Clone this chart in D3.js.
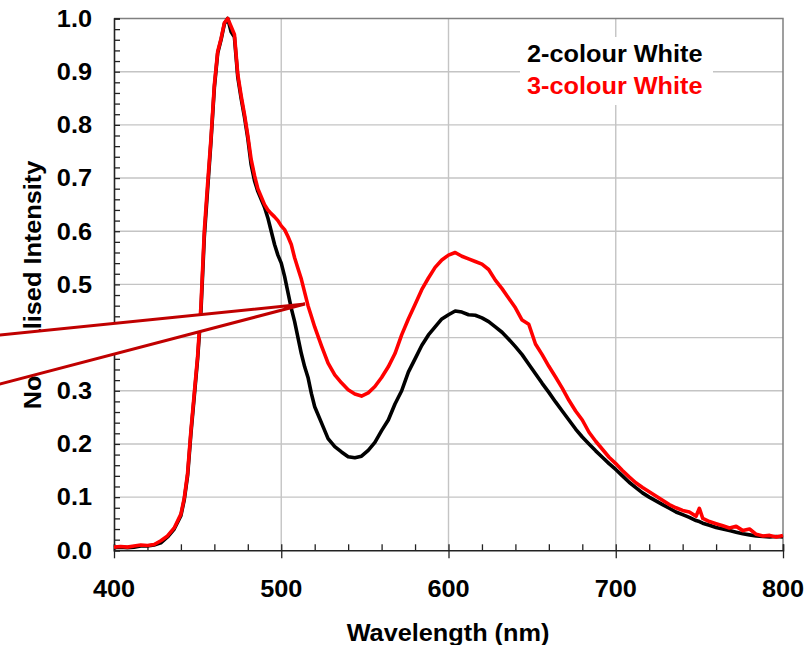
<!DOCTYPE html>
<html>
<head>
<meta charset="utf-8">
<script src="https://cdn.jsdelivr.net/npm/d3@7"></script>
<style>
  html, body { margin: 0; padding: 0; background: #fff; }
  svg { display: block; }
  text { font-family: "Liberation Sans", Arial, sans-serif; font-weight: bold; }
</style>
</head>
<body>
<svg id="chart" width="812" height="645"></svg>
<script>
// ---- data ----
const wavelengths = [400,404,408,412,416,420,424,428,432,436,440,442,444,446,448,450,452,454,456,458,
  460,462,464,466,468,470,472,474,476,478,480,482,484,486,488,490,492,494,496,498,
  500,502,504,506,508,510,512,514,516,518,520,524,528,532,536,540,544,548,552,556,
  560,564,568,572,576,580,584,588,592,596,600,604,608,612,616,620,624,628,632,636,
  640,644,648,652,656,660,664,668,672,676,680,684,688,692,696,700,704,708,712,716,
  720,724,728,732,736,740,744,748,750,752,756,760,764,768,772,776,780,784,788,792,796,800];

const twoColour = [0.005,0.006,0.005,0.006,0.008,0.008,0.010,0.014,0.025,0.040,0.065,0.095,0.140,0.220,0.290,0.360,0.450,0.590,0.680,0.770,
  0.870,0.935,0.960,0.990,1.000,0.975,0.965,0.890,0.850,0.815,0.775,0.725,0.695,0.675,0.660,0.645,0.625,0.600,0.575,0.555,
  0.540,0.515,0.485,0.455,0.430,0.400,0.370,0.345,0.325,0.295,0.270,0.240,0.210,0.195,0.185,0.176,0.174,0.177,0.188,0.203,
  0.225,0.245,0.275,0.300,0.335,0.360,0.385,0.405,0.420,0.435,0.443,0.450,0.448,0.443,0.442,0.437,0.430,0.420,0.410,0.397,
  0.383,0.368,0.350,0.332,0.314,0.297,0.279,0.262,0.245,0.228,0.213,0.200,0.187,0.175,0.163,0.152,0.140,0.128,0.118,0.108,
  0.100,0.093,0.086,0.079,0.072,0.067,0.062,0.056,0.054,0.051,0.047,0.043,0.040,0.037,0.034,0.031,0.029,0.027,0.026,0.025,0.026,0.025];

const threeColour = [0.006,0.007,0.006,0.008,0.010,0.009,0.011,0.018,0.027,0.042,0.068,0.098,0.145,0.225,0.295,0.365,0.460,0.600,0.690,0.775,
  0.875,0.938,0.962,0.992,1.000,0.985,0.970,0.895,0.855,0.820,0.780,0.735,0.705,0.680,0.665,0.650,0.640,0.633,0.627,0.620,
  0.610,0.603,0.590,0.575,0.550,0.530,0.510,0.485,0.460,0.440,0.420,0.385,0.352,0.330,0.315,0.302,0.294,0.290,0.296,0.308,
  0.325,0.345,0.370,0.405,0.435,0.462,0.490,0.512,0.532,0.546,0.555,0.560,0.553,0.548,0.543,0.538,0.528,0.508,0.492,0.474,
  0.456,0.433,0.425,0.388,0.368,0.346,0.326,0.305,0.282,0.262,0.245,0.222,0.205,0.190,0.175,0.163,0.150,0.138,0.127,0.118,
  0.110,0.102,0.094,0.086,0.080,0.075,0.072,0.064,0.079,0.060,0.054,0.050,0.046,0.042,0.045,0.037,0.040,0.030,0.027,0.028,0.025,0.028];

const xTicks = [400, 500, 600, 700, 800];
const yTicks = [0.0, 0.1, 0.2, 0.3, 0.4, 0.5, 0.6, 0.7, 0.8, 0.9, 1.0];
const seriesNames = ["2-colour White", "3-colour White"];
const seriesColors = ["#000000", "#ff0000"];

// ---- chart ----
const svg = d3.select("#chart");
const L = 114, R = 783, T = 18.5, B = 550.3;
const SX = 1.1; // horizontal text stretch seen in the reference
const x = d3.scaleLinear().domain([400, 800]).range([L, R]);
const y = d3.scaleLinear().domain([0, 1]).range([B, T]);

// gridlines
const grid = svg.append("g").attr("stroke", "#c4c4c4").attr("stroke-width", 1.4);
grid.selectAll("line.h").data(yTicks.filter(v => v > 0 && v < 1)).enter().append("line")
  .attr("x1", L).attr("x2", R).attr("y1", d => y(d)).attr("y2", d => y(d));
grid.selectAll("line.v").data(xTicks.filter(v => v > 400 && v < 800)).enter().append("line")
  .attr("y1", T).attr("y2", B).attr("x1", d => x(d)).attr("x2", d => x(d));

// frame (top and right, grey)
svg.append("path").attr("d", `M${L},${T}H${R}V${B}`)
  .attr("fill", "none").attr("stroke", "#808080").attr("stroke-width", 1.5);

// axes
const xAxisMinor = d3.axisTop(x).tickValues(d3.range(400, 801, 20)).tickSize(6).tickFormat("");
const xAxisMajor = d3.axisBottom(x).tickValues(xTicks).tickSize(8).tickFormat("");
const yAxisMinor = d3.axisRight(y).tickValues(d3.range(0, 51).map(i => i / 50)).tickSize(6).tickFormat("");

const gx1 = svg.append("g").attr("transform", `translate(0,${B})`).call(xAxisMinor);
const gx2 = svg.append("g").attr("transform", `translate(0,${B})`).call(xAxisMajor);
const gy = svg.append("g").attr("transform", `translate(${L},0)`).call(yAxisMinor);
[gx1, gx2, gy].forEach(g => {
  g.selectAll("line").attr("stroke", "#222").attr("stroke-width", 1.3);
  g.select(".domain").attr("stroke", "#222").attr("stroke-width", 1.6);
});
gx2.select(".domain").remove();

// tick labels
svg.append("g").selectAll("text").data(yTicks).enter().append("text")
  .attr("transform", d => `translate(92,${y(d)}) scale(${SX},1)`).attr("dy", "0.36em")
  .attr("text-anchor", "end").attr("font-size", 23)
  .text(d => d3.format(".1f")(d));
svg.append("g").selectAll("text").data(xTicks).enter().append("text")
  .attr("transform", d => `translate(${x(d)},597) scale(${SX},1)`)
  .attr("text-anchor", "middle").attr("font-size", 23)
  .text(d => d);

// axis titles
svg.append("text").attr("transform", `translate(448,641) scale(${SX},1)`).attr("text-anchor", "middle")
  .attr("font-size", 23).text("Wavelength (nm)");
svg.append("text").attr("transform", `translate(41,285) rotate(-90) scale(${SX},1)`)
  .attr("text-anchor", "middle").attr("font-size", 23).text("Normalised Intensity");

// curves
const series = [twoColour, threeColour];
const line = d3.line().x((d, i) => x(wavelengths[i])).y(d => y(d));
series.forEach((vals, k) => {
  svg.append("path").datum(vals).attr("d", line)
    .attr("fill", "none").attr("stroke", seriesColors[k])
    .attr("stroke-width", 3.6).attr("stroke-linejoin", "round");
});

// legend
svg.append("rect").attr("x", 520).attr("y", 37).attr("width", 193).attr("height", 68).attr("fill", "#fff");
svg.append("g").selectAll("text").data(seriesNames).enter().append("text")
  .attr("transform", (d, i) => `translate(527,${62 + i * 32}) scale(${SX},1)`)
  .attr("font-size", 23).attr("fill", (d, i) => seriesColors[i])
  .text(d => d);

// callout pointer overlay
svg.append("polygon")
  .attr("points", "-5,335.5 305,304 -5,385.3")
  .attr("fill", "#fff").attr("stroke", "#c00000").attr("stroke-width", 3)
  .attr("stroke-linejoin", "miter");
</script>
</body>
</html>
